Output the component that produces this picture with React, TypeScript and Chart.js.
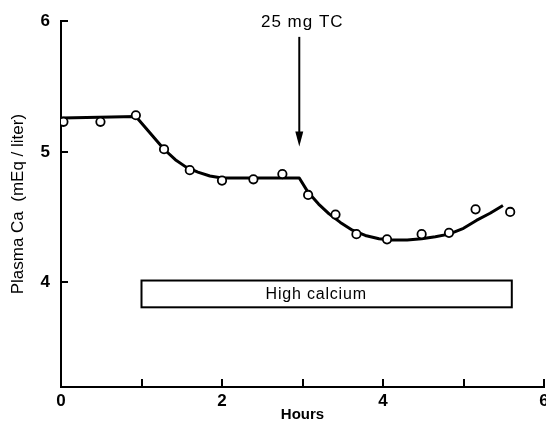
import { useEffect, useRef } from 'react';
import { Chart, registerables } from 'chart.js';

Chart.register(...registerables);

// Measured plasma calcium (open circles)
const sampleHours = [0.03, 0.49, 0.93, 1.28, 1.6, 2.0, 2.39, 2.75, 3.07, 3.41, 3.67, 4.05, 4.48, 4.82, 5.15, 5.58];
const plasmaCa = [5.23, 5.23, 5.28, 5.02, 4.86, 4.78, 4.79, 4.83, 4.67, 4.52, 4.37, 4.33, 4.37, 4.38, 4.56, 4.54];

// Hand-drawn trend curve
const curveHours = [
  0.01, 0.93, 1.28, 1.42, 1.55, 1.7, 1.85, 2.0, 2.96, 3.07, 3.2, 3.33, 3.47, 3.62, 3.78, 3.95, 4.1, 4.3,
  4.48, 4.65, 4.82, 5.0, 5.16, 5.33, 5.49,
];
const curveCa = [
  5.26, 5.27, 5.02, 4.94, 4.885, 4.845, 4.815, 4.8, 4.8, 4.69, 4.6, 4.525, 4.46, 4.4, 4.36, 4.335, 4.325,
  4.325, 4.335, 4.35, 4.37, 4.415, 4.475, 4.53, 4.59,
];

// Axis ticks
const xTicks = [0, 1, 2, 3, 4, 5, 6];
const xTickLabels = ['0', '', '2', '', '4', '', '6'];
const yTicks = [4, 5, 6];

// Dose marker
const doseLabel = '25 mg TC';
const doseHour = [2.96];
const doseArrow = [5.88, 5.04]; // from, to (mEq/liter)

// High calcium infusion period
const infusionLabel = 'High calcium';
const infusionHours = [1.0, 5.6];
const infusionBand = [4.015, 3.81]; // top, bottom
const infusionLabelHour = [3.17];

const FONT = '"Liberation Sans", Arial, sans-serif';

const overlay = {
  id: 'overlay',
  afterDraw(chart: any) {
    const { ctx, chartArea } = chart;
    const x = chart.scales.x;
    const y = chart.scales.y;
    ctx.save();
    ctx.strokeStyle = '#000';
    ctx.fillStyle = '#000';
    ctx.lineCap = 'butt';

    // inward ticks
    ctx.lineWidth = 2;
    ctx.beginPath();
    for (const v of yTicks) {
      const py = Math.round(y.getPixelForValue(v));
      ctx.moveTo(chartArea.left, py);
      ctx.lineTo(chartArea.left + 7, py);
    }
    for (const v of xTicks) {
      const px = Math.round(x.getPixelForValue(v));
      ctx.moveTo(px, chartArea.bottom);
      ctx.lineTo(px, chartArea.bottom - 8);
    }
    ctx.stroke();

    // infusion bar
    const bx1 = x.getPixelForValue(infusionHours[0]);
    const bx2 = x.getPixelForValue(infusionHours[1]);
    const by1 = y.getPixelForValue(infusionBand[0]);
    const by2 = y.getPixelForValue(infusionBand[1]);
    ctx.lineWidth = 2;
    ctx.strokeRect(bx1, by1, bx2 - bx1, by2 - by1);
    ctx.font = `16px ${FONT}`;
    (ctx as any).letterSpacing = '0.8px';
    ctx.textAlign = 'center';
    ctx.textBaseline = 'middle';
    ctx.fillText(infusionLabel, x.getPixelForValue(infusionLabelHour[0]), (by1 + by2) / 2 + 1);

    // dose arrow
    const ax = x.getPixelForValue(doseHour[0]);
    const ay1 = y.getPixelForValue(doseArrow[0]);
    const ay2 = y.getPixelForValue(doseArrow[1]);
    ctx.lineWidth = 2;
    ctx.beginPath();
    ctx.moveTo(ax, ay1);
    ctx.lineTo(ax, ay2 - 10);
    ctx.stroke();
    ctx.beginPath();
    ctx.moveTo(ax - 4, ay2 - 15);
    ctx.lineTo(ax + 4, ay2 - 15);
    ctx.lineTo(ax, ay2);
    ctx.closePath();
    ctx.fill();

    ctx.font = `17px ${FONT}`;
    (ctx as any).letterSpacing = '1px';
    ctx.textAlign = 'center';
    ctx.textBaseline = 'middle';
    ctx.fillText(doseLabel, ax + 3, y.getPixelForValue(6) + 1);

    ctx.restore();
  },
};

export default function App() {
  const ref = useRef<HTMLCanvasElement>(null);

  useEffect(() => {
    const chart = new Chart(ref.current as HTMLCanvasElement, {
      type: 'scatter',
      data: {
        datasets: [
          {
            label: 'Plasma Ca',
            data: sampleHours.map((h, i) => ({ x: h, y: plasmaCa[i] })),
            pointRadius: 4.2,
            pointBorderWidth: 1.8,
            pointBorderColor: '#000',
            pointBackgroundColor: '#fff',
            showLine: false,
          },
          {
            label: 'Trend',
            data: curveHours.map((h, i) => ({ x: h, y: curveCa[i] })),
            showLine: true,
            borderColor: '#000',
            borderWidth: 3,
            borderJoinStyle: 'round',
            pointRadius: 0,
            tension: 0,
          },
        ],
      },
      options: {
        animation: false,
        responsive: false,
        events: [],
        layout: { padding: { left: 0, top: 18, right: 16, bottom: 0 } },
        plugins: {
          legend: { display: false },
          tooltip: { enabled: false },
        },
        scales: {
          x: {
            type: 'linear',
            min: 0,
            max: 6,
            afterBuildTicks: (scale: any) => {
              scale.ticks = xTicks.map((v) => ({ value: v }));
            },
            afterFit: (scale: any) => {
              scale.height = 37;
            },
            ticks: {
              autoSkip: false,
              maxRotation: 0,
              padding: 4,
              color: '#000',
              font: { family: FONT, size: 17, weight: 'bold' },
              callback: (_v: any, i: number) => xTickLabels[i],
            },
            grid: { display: false, drawTicks: false },
            border: { display: true, color: '#000', width: 2 },
            title: {
              display: true,
              text: 'Hours',
              color: '#000',
              font: { family: FONT, size: 15, weight: 'bold' },
              padding: { top: 0, bottom: 0 },
            },
          },
          y: {
            type: 'linear',
            min: 3.2,
            max: 6,
            afterBuildTicks: (scale: any) => {
              scale.ticks = yTicks.map((v) => ({ value: v }));
            },
            afterFit: (scale: any) => {
              scale.width = 61;
            },
            ticks: {
              autoSkip: false,
              padding: 11,
              color: '#000',
              font: { family: FONT, size: 17, weight: 'bold' },
              callback: (v: any) => String(v),
            },
            grid: { display: false, drawTicks: false },
            border: { display: true, color: '#000', width: 2 },
            title: {
              display: true,
              text: 'Plasma Ca  (mEq / liter)',
              color: '#000',
              font: { family: FONT, size: 17 },
              padding: { top: 8, bottom: 0 },
            },
          },
        },
      },
      plugins: [overlay],
    } as any);
    return () => chart.destroy();
  }, []);

  return (
    <div
      style={{
        position: 'fixed',
        left: 0,
        top: 0,
        width: 546,
        height: 424,
        overflow: 'hidden',
        background: '#fff',
      }}
    >
      <canvas ref={ref} width={560} height={424} style={{ display: 'block' }} />
    </div>
  );
}
